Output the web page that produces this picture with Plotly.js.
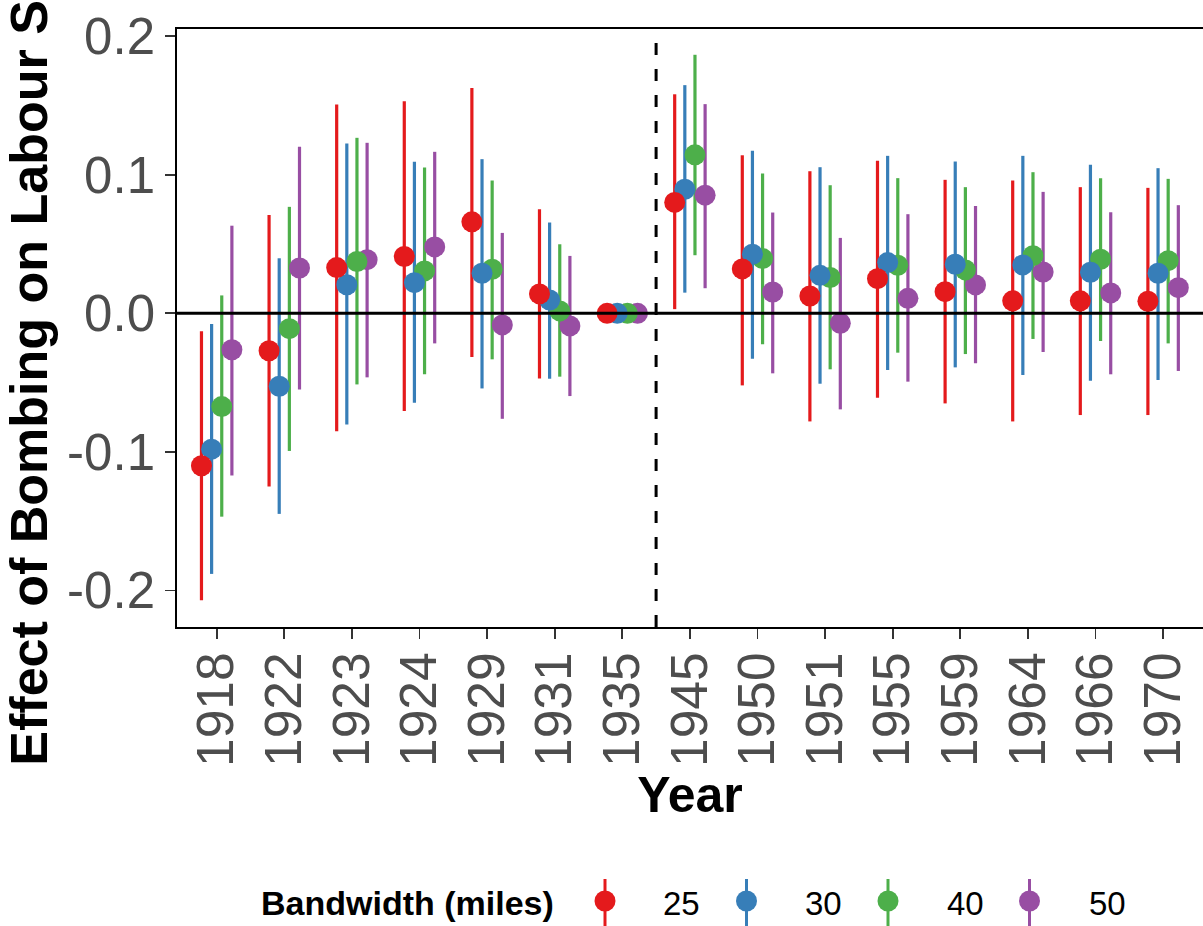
<!DOCTYPE html>
<html>
<head>
<meta charset="utf-8">
<script src="https://cdn.plot.ly/plotly-3.0.1.min.js"></script>
<style>html,body{margin:0;padding:0;background:#fff;}#chart{width:1203px;height:926px;}</style>
</head>
<body>
<div id="chart"></div>
<script>
// ---- data ----
const years = ['1918','1922','1923','1924','1929','1931','1935','1945','1950','1951','1955','1959','1964','1966','1970'];
const seriesNames = ['25','30','40','50'];
const seriesColors = ['#E41A1C','#377EB8','#4DAF4A','#984EA3'];

const est25 = [-0.110, -0.027, 0.033, 0.041, 0.066, 0.014, 0, 0.080, 0.032, 0.0125, 0.025, 0.0156, 0.009, 0.009, 0.0087];
const lo25  = [-0.207, -0.125, -0.085, -0.0705, -0.0315, -0.047, 0, 0.003, -0.052, -0.078, -0.061, -0.065, -0.078, -0.0734, -0.0734];
const hi25  = [-0.013, 0.071, 0.1506, 0.153, 0.1625, 0.075, 0, 0.158, 0.114, 0.1025, 0.110, 0.0963, 0.0958, 0.091, 0.0905];

const est30 = [-0.098, -0.0526, 0.0206, 0.0221, 0.0289, 0.0096, 0, 0.0895, 0.0426, 0.0274, 0.0366, 0.0354, 0.0349, 0.0296, 0.0289];
const lo30  = [-0.188, -0.1447, -0.0802, -0.0645, -0.0542, -0.0472, 0, 0.0149, -0.0327, -0.0508, -0.0409, -0.039, -0.0445, -0.0486, -0.0481];
const hi30  = [-0.0077, 0.0397, 0.1225, 0.1093, 0.1112, 0.0655, 0, 0.1646, 0.1172, 0.1054, 0.1136, 0.1095, 0.1136, 0.1071, 0.1047];

const est40 = [-0.0673, -0.0111, 0.0374, 0.0306, 0.0318, 0.0017, 0, 0.1143, 0.0395, 0.0258, 0.0347, 0.0313, 0.0416, 0.039, 0.038];
const lo40  = [-0.1467, -0.0993, -0.0513, -0.044, -0.0332, -0.0457, 0, 0.0419, -0.0224, -0.0404, -0.0284, -0.0294, -0.0185, -0.02, -0.0217];
const hi40  = [0.0129, 0.0768, 0.1266, 0.1052, 0.0958, 0.0498, 0, 0.1865, 0.1008, 0.0924, 0.0975, 0.091, 0.1018, 0.0975, 0.097];

const est50 = [-0.0263, 0.0327, 0.0387, 0.0479, -0.0084, -0.0091, 0, 0.0852, 0.0154, -0.0072, 0.0108, 0.0205, 0.0298, 0.0147, 0.0185];
const lo50  = [-0.117, -0.0549, -0.0462, -0.0217, -0.0761, -0.0597, 0, 0.0181, -0.0433, -0.0693, -0.0493, -0.0361, -0.0279, -0.044, -0.0416];
const hi50  = [0.0632, 0.1202, 0.123, 0.1165, 0.058, 0.0414, 0, 0.1509, 0.0727, 0.0544, 0.0715, 0.0775, 0.0876, 0.0729, 0.078];

const yTickVals = [-0.2, -0.1, 0, 0.1, 0.2];
const yTickText = ['-0.2', '-0.1', '0.0', '0.1', '0.2'];
const breakBetween = ['1935', '1945'];

// ---- build ----
const FONT = 'Liberation Sans, Arial, Helvetica, sans-serif';
const est = [est25, est30, est40, est50];
const lo = [lo25, lo30, lo40, lo50];
const hi = [hi25, hi30, hi40, hi50];
const idx = years.map((_, i) => i);
const dodge = 0.6;
const nS = seriesNames.length;
const off = s => (s - (nS - 1) / 2) * dodge / nS;

const traces = [];
// ranges first (under all points)
for (let s = 0; s < nS; s++) {
  traces.push({
    type: 'scatter', mode: 'markers', showlegend: false, hoverinfo: 'skip',
    x: idx.map(i => i + off(s)), y: est[s],
    marker: {size: 21, opacity: 0, color: seriesColors[s]},
    error_y: {type: 'data', symmetric: false,
      array: hi[s].map((h, i) => h - est[s][i]),
      arrayminus: lo[s].map((l, i) => est[s][i] - l),
      width: 0, thickness: 3.2, color: seriesColors[s]}
  });
}
// points, drawn so the first series sits on top
for (let s = nS - 1; s >= 0; s--) {
  traces.push({
    type: 'scatter', mode: 'markers', showlegend: false, name: seriesNames[s],
    x: idx.map(i => i + off(s)), y: est[s],
    marker: {size: 21, color: seriesColors[s], line: {width: 0}}
  });
}

// pixel -> paper helpers (plot area 177..1203 x 29..627)
const L = 177, R = 1203, T = 29, B = 627;
const pxX = x => (x - L) / (R - L);
const pxY = y => (B - y) / (B - T);

const shapes = [
  {type: 'line', layer: 'above', xref: 'paper', yref: 'y', x0: 0, x1: 1, y0: 0, y1: 0,
   line: {color: '#000', width: 3}},
  {type: 'line', layer: 'above', xref: 'x', yref: 'paper',
   x0: (years.indexOf(breakBetween[0]) + years.indexOf(breakBetween[1])) / 2,
   x1: (years.indexOf(breakBetween[0]) + years.indexOf(breakBetween[1])) / 2,
   y0: 0, y1: 1, line: {color: '#000', width: 3, dash: '12px,14px'}}
];
const annotations = [
  {xref: 'paper', yref: 'paper', x: pxX(556), y: pxY(903), xanchor: 'right', yanchor: 'middle',
   text: 'Bandwidth (miles)', showarrow: false,
   font: {family: FONT, size: 34, color: '#000', weight: 'bold'}}
];
for (let s = 0; s < nS; s++) {
  const kx = 605 + 141.5 * s;
  shapes.push({type: 'line', xref: 'paper', yref: 'paper', x0: pxX(kx), x1: pxX(kx),
    y0: pxY(879), y1: pxY(930), line: {color: seriesColors[s], width: 3}});
  shapes.push({type: 'circle', xref: 'paper', yref: 'paper', xsizemode: 'pixel', ysizemode: 'pixel',
    xanchor: pxX(kx), yanchor: pxY(901), x0: -10.5, x1: 10.5, y0: -10.5, y1: 10.5,
    fillcolor: seriesColors[s], line: {width: 0}});
  annotations.push({xref: 'paper', yref: 'paper', x: pxX(661 + 142 * s), y: pxY(903),
    xanchor: 'left', yanchor: 'middle', text: seriesNames[s], showarrow: false,
    font: {family: FONT, size: 33, color: '#000'}});
}

const layout = {
  width: 1203, height: 926,
  margin: {l: L, r: 1203 - R, t: T, b: 926 - B, pad: 0},
  paper_bgcolor: '#fff', plot_bgcolor: '#fff',
  showlegend: false,
  font: {family: FONT},
  xaxis: {
    range: [-0.587, 14.59], tickmode: 'array', tickvals: idx, ticktext: years,
    tickangle: -90, ticks: 'outside', ticklen: 10, tickwidth: 1.8, tickcolor: '#333',
    ticklabelstandoff: -7,
    tickfont: {family: FONT, size: 51.5, color: '#4d4d4d'},
    showline: true, mirror: true, linecolor: '#000', linewidth: 1.8,
    showgrid: false, zeroline: false,
    title: {text: 'Year', font: {family: FONT, size: 50, color: '#000', weight: 'bold'}, standoff: 6}
  },
  yaxis: {
    range: [-0.2263, 0.2051], tickmode: 'array', tickvals: yTickVals, ticktext: yTickText,
    ticks: 'outside', ticklen: 10, tickwidth: 1.8, tickcolor: '#333',
    tickfont: {family: FONT, size: 51, color: '#4d4d4d'},
    showline: true, mirror: false, linecolor: '#000', linewidth: 1.8,
    showgrid: false, zeroline: false,
    title: {text: 'Effect of Bombing on Labour Share', font: {family: FONT, size: 52, color: '#000', weight: 'bold'}, standoff: 6}
  },
  shapes: shapes,
  annotations: annotations
};

Plotly.newPlot('chart', traces, layout, {staticPlot: true, displayModeBar: false});
</script>
</body>
</html>
